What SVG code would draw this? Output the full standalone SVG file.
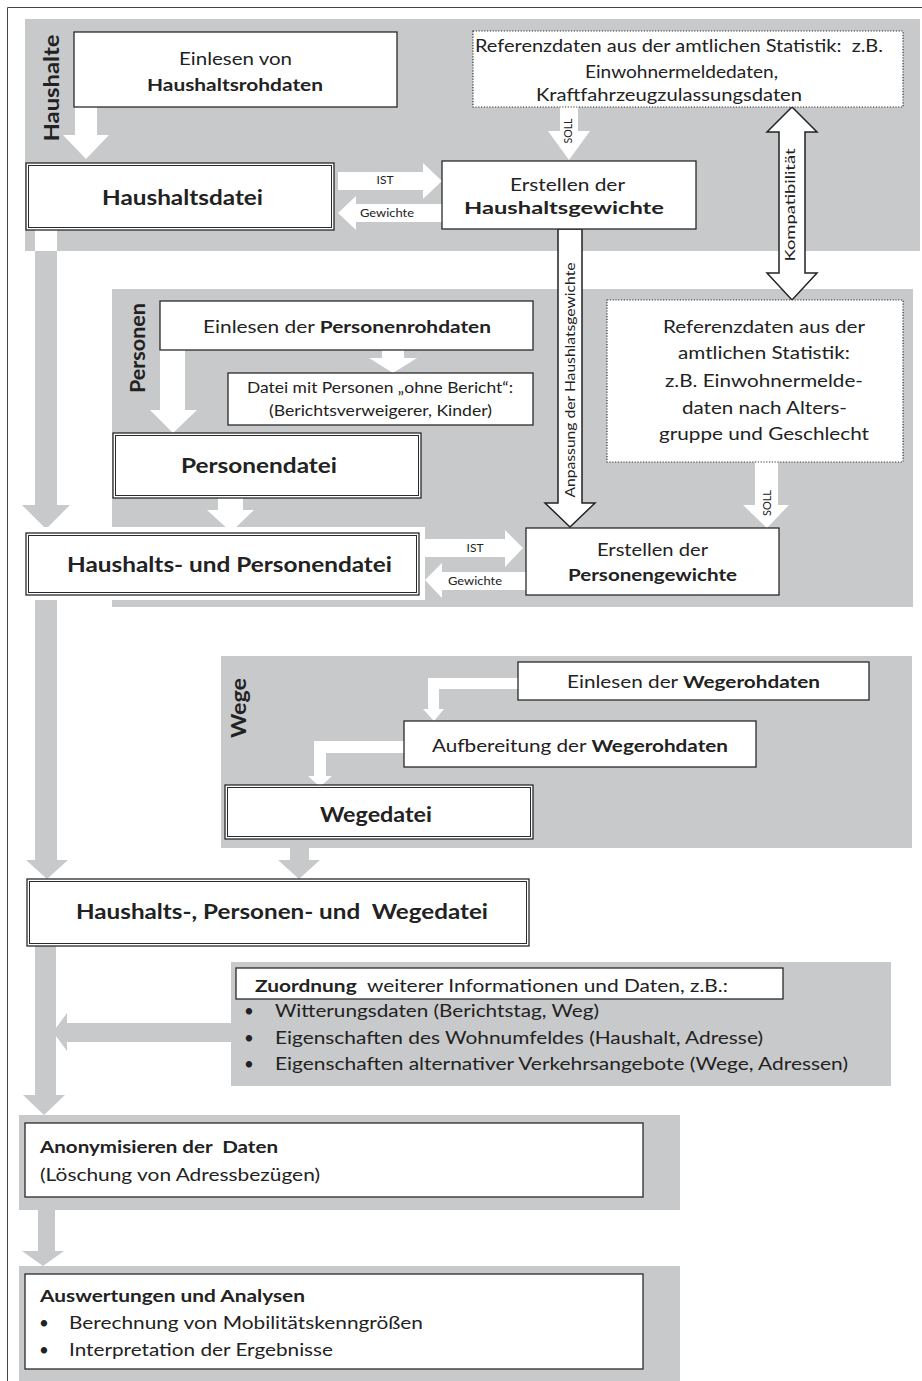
<svg xmlns="http://www.w3.org/2000/svg" width="922" height="1381" viewBox="0 0 922 1381">
<style>
text{font-family:Lato,"Open Sans","Liberation Sans",sans-serif;fill:#222}
.b{font-weight:bold}
.band{fill:#c8c9cb}
.box{fill:#fff;stroke:#2a2a2a;stroke-width:1.3}
.inner{fill:none;stroke:#2a2a2a;stroke-width:1}
.dot{fill:#fff;stroke:#333;stroke-width:1.2;stroke-dasharray:1.2 1.6}
.wa{fill:#fff}
.ga{fill:#c8c9cb}
.oa{fill:#fff;stroke:#222;stroke-width:1.5;stroke-linejoin:miter}
.t17{font-size:17px}
.t15{font-size:15px}
.t12{font-size:12px}
.t21{font-size:21px}
</style>
<path d="M7.5,1381 V7.5 H922" fill="none" stroke="#444" stroke-width="1"/>
<g id="bands">
<rect class="band" x="25" y="19" width="895" height="232"/>
<rect class="band" x="112" y="289" width="801" height="318"/>
<rect class="band" x="221" y="656" width="691" height="192"/>
<rect class="band" x="231" y="962" width="660" height="124"/>
<rect class="band" x="19" y="1115" width="661" height="95"/>
<rect class="band" x="19" y="1266" width="661" height="115"/>
<text class="b" transform="translate(59,88) rotate(-90)" text-anchor="middle" font-size="21" textLength="107" lengthAdjust="spacingAndGlyphs">Haushalte</text>
<text class="b" transform="translate(145,348) rotate(-90)" text-anchor="middle" font-size="21" textLength="90" lengthAdjust="spacingAndGlyphs">Personen</text>
<text class="b" transform="translate(246,708) rotate(-90)" text-anchor="middle" font-size="21" textLength="60" lengthAdjust="spacingAndGlyphs">Wege</text>
</g>
<g id="connectors">
<rect class="wa" x="35" y="230" width="22" height="21"/>
<polygon class="ga" points="35,251 57,251 57,505 70,505 46,529 22,505 35,505"/>
<polygon class="ga" points="35,600 57,600 57,860 68,860 47,879 26,860 35,860"/>
<polygon class="ga" points="35,946 56,946 56,1095 65,1095 44,1115 23,1095 35,1095"/>
<polygon class="ga" points="231,1023 67,1023 67,1013 53,1032 67,1051 67,1042 231,1042"/>
<polygon class="ga" points="38,1210 55,1210 55,1251 64,1251 43,1266 22,1251 38,1251"/>
<polygon class="ga" points="290,848 309,848 309,860 320,860 299,879 278,860 290,860"/>
<polygon class="wa" points="75,107 97,107 97,135 109,135 86,159 63,135 75,135"/>
<polygon class="wa" points="338,172 423,172 423,163 442,181 423,199 423,190 338,190"/>
<polygon class="wa" points="442,204 356,204 356,196 338,213 356,230 356,222 442,222"/>
<polygon class="wa" points="560,107 578,107 578,131 590,131 569,160 548,131 560,131"/>
<polygon class="oa" points="792,107 817,132 805,132 805,273 817,273 792,300 767,273 779,273 779,132 767,132"/>
<polygon class="oa" points="558,229 582,229 582,503 595,503 570,527 545,503 558,503"/>
<polygon class="wa" points="382,350 404,350 404,358 417,358 393,373 369,358 382,358"/>
<polygon class="wa" points="160,350 185,350 185,410 197,410 173,433 150,410 160,410"/>
<polygon class="wa" points="218,498 243,498 243,510 254,510 231,532 207,510 218,510"/>
<polygon class="wa" points="425,539 505,539 505,530 523,548 505,567 505,557 425,557"/>
<polygon class="wa" points="526,572 442,572 442,563 425,580 442,598 442,590 526,590"/>
<polygon class="wa" points="755,462 778,462 778,505 789,505 767,528 743,505 755,505"/>
<polygon class="wa" points="518,678 428,678 428,709 423,709 434,721 444,709 439,709 439,689 518,689"/>
<polygon class="wa" points="404,741 314,741 314,776 308,776 320,787 332,776 326,776 326,753 404,753"/>
<text class="t12" x="385" y="184" text-anchor="middle">IST</text>
<text class="t12" x="387" y="217" text-anchor="middle" textLength="54" lengthAdjust="spacingAndGlyphs">Gewichte</text>
<text class="t12" x="475" y="552" text-anchor="middle">IST</text>
<text class="t12" x="475" y="585" text-anchor="middle" textLength="54" lengthAdjust="spacingAndGlyphs">Gewichte</text>
<text transform="translate(572,131) rotate(-90)" text-anchor="middle" font-size="11.5" textLength="25" lengthAdjust="spacingAndGlyphs">SOLL</text>
<text transform="translate(771,503) rotate(-90)" text-anchor="middle" font-size="11.5" textLength="26" lengthAdjust="spacingAndGlyphs">SOLL</text>
<text transform="translate(795,205) rotate(-90)" text-anchor="middle" font-size="13" textLength="113" lengthAdjust="spacingAndGlyphs">Kompatibilität</text>
<text transform="translate(575,380) rotate(-90)" text-anchor="middle" font-size="13" textLength="235" lengthAdjust="spacingAndGlyphs">Anpassung der Haushlatsgewichte</text>
</g>
<g id="einlesen-haushalt">
<rect class="box" x="74" y="32" width="323" height="75"/>
<text class="t17" x="179" y="65" textLength="113" lengthAdjust="spacingAndGlyphs">Einlesen von</text>
<text class="t17 b" x="147" y="91" textLength="176" lengthAdjust="spacingAndGlyphs">Haushaltsrohdaten</text>
</g>
<g id="haushaltsdatei">
<rect class="box" x="26" y="163" width="308" height="67"/>
<rect class="inner" x="28.5" y="165.5" width="303" height="62"/>
<text class="t21 b" x="102" y="205" textLength="161" lengthAdjust="spacingAndGlyphs">Haushaltsdatei</text>
</g>
<g id="referenz-haushalt">
<rect class="dot" x="473" y="31" width="430" height="76"/>
<text class="t17" x="475" y="52" textLength="408" lengthAdjust="spacingAndGlyphs" xml:space="preserve">Referenzdaten aus der amtlichen Statistik:  z.B.</text>
<text class="t17" x="585" y="78" textLength="193" lengthAdjust="spacingAndGlyphs">Einwohnermeldedaten,</text>
<text class="t17" x="536" y="101" textLength="266" lengthAdjust="spacingAndGlyphs">Kraftfahrzeugzulassungsdaten</text>
</g>
<g id="haushaltsgewichte">
<rect class="box" x="442" y="161" width="254" height="68"/>
<text class="t17" x="510" y="191" textLength="115" lengthAdjust="spacingAndGlyphs">Erstellen der</text>
<text class="t17 b" x="464" y="214" textLength="200" lengthAdjust="spacingAndGlyphs">Haushaltsgewichte</text>
</g>
<g id="einlesen-personen">
<rect class="box" x="160" y="301" width="373" height="49"/>
<text class="t17" x="203" y="333" textLength="288" lengthAdjust="spacingAndGlyphs">Einlesen der <tspan class="b">Personenrohdaten</tspan></text>
</g>
<g id="ohne-bericht">
<rect class="box" x="228" y="373" width="305" height="52"/>
<text class="t15" x="247" y="393" textLength="266" lengthAdjust="spacingAndGlyphs">Datei mit Personen „ohne Bericht“:</text>
<text class="t15" x="269" y="416" textLength="223" lengthAdjust="spacingAndGlyphs">(Berichtsverweigerer, Kinder)</text>
</g>
<g id="personendatei">
<rect class="box" x="113" y="433" width="308" height="65"/>
<rect class="inner" x="115.5" y="435.5" width="303" height="60"/>
<text class="t21 b" x="181" y="473" textLength="156" lengthAdjust="spacingAndGlyphs">Personendatei</text>
</g>
<g id="haushalts-personendatei">
<rect fill="#fff" x="21" y="527" width="404" height="73"/>
<rect class="box" x="26" y="533" width="393" height="62"/>
<rect class="inner" x="28.5" y="535.5" width="388" height="57"/>
<text class="t21 b" x="67" y="572" textLength="325" lengthAdjust="spacingAndGlyphs">Haushalts- und Personendatei</text>
</g>
<g id="referenz-personen">
<rect class="dot" x="607" y="300" width="296" height="162"/>
<text class="t17" x="663" y="333" textLength="202" lengthAdjust="spacingAndGlyphs">Referenzdaten aus der</text>
<text class="t17" x="678" y="359" textLength="172" lengthAdjust="spacingAndGlyphs">amtlichen Statistik:</text>
<text class="t17" x="665" y="387" textLength="198" lengthAdjust="spacingAndGlyphs">z.B. Einwohnermelde-</text>
<text class="t17" x="682" y="414" textLength="165" lengthAdjust="spacingAndGlyphs">daten nach Alters-</text>
<text class="t17" x="659" y="440" textLength="210" lengthAdjust="spacingAndGlyphs">gruppe und Geschlecht</text>
</g>
<g id="personengewichte">
<rect class="box" x="526" y="528" width="253" height="67"/>
<text class="t17" x="597" y="556" textLength="111" lengthAdjust="spacingAndGlyphs">Erstellen der</text>
<text class="t17 b" x="568" y="581" textLength="169" lengthAdjust="spacingAndGlyphs">Personengewichte</text>
</g>
<g id="einlesen-wege">
<rect class="box" x="518" y="662" width="351" height="38"/>
<text class="t17" x="567" y="688" textLength="253" lengthAdjust="spacingAndGlyphs">Einlesen der <tspan class="b">Wegerohdaten</tspan></text>
</g>
<g id="aufbereitung-wege">
<rect class="box" x="404" y="721" width="352" height="46"/>
<text class="t17" x="432" y="752" textLength="296" lengthAdjust="spacingAndGlyphs">Aufbereitung der <tspan class="b">Wegerohdaten</tspan></text>
</g>
<g id="wegedatei">
<rect class="box" x="225" y="785" width="308" height="54"/>
<rect class="inner" x="227.5" y="787.5" width="303" height="49"/>
<text class="t21 b" x="320" y="822" textLength="112" lengthAdjust="spacingAndGlyphs">Wegedatei</text>
</g>
<g id="hpw-datei">
<rect class="box" x="27" y="879" width="502" height="67"/>
<rect class="inner" x="29.5" y="881.5" width="497" height="62"/>
<text class="t21 b" x="76" y="919" textLength="412" lengthAdjust="spacingAndGlyphs" xml:space="preserve">Haushalts-, Personen- und  Wegedatei</text>
</g>
<g id="zuordnung">
<rect class="box" x="236" y="968" width="547" height="31"/>
<text class="t17" x="255" y="992" textLength="473" lengthAdjust="spacingAndGlyphs" xml:space="preserve"><tspan class="b">Zuordnung</tspan>  weiterer Informationen und Daten, z.B.:</text>
<text class="t17" x="244" y="1017">•</text>
<text class="t17" x="275" y="1017" textLength="324" lengthAdjust="spacingAndGlyphs">Witterungsdaten (Berichtstag, Weg)</text>
<text class="t17" x="244" y="1044">•</text>
<text class="t17" x="275" y="1044" textLength="488" lengthAdjust="spacingAndGlyphs">Eigenschaften des Wohnumfeldes (Haushalt, Adresse)</text>
<text class="t17" x="244" y="1070">•</text>
<text class="t17" x="275" y="1070" textLength="573" lengthAdjust="spacingAndGlyphs">Eigenschaften alternativer Verkehrsangebote (Wege, Adressen)</text>
</g>
<g id="anonymisieren">
<rect class="box" x="25" y="1123" width="618" height="74"/>
<text class="t17 b" x="40" y="1153" textLength="238" lengthAdjust="spacingAndGlyphs" xml:space="preserve">Anonymisieren der  Daten</text>
<text class="t17" x="40" y="1181" textLength="280" lengthAdjust="spacingAndGlyphs">(Löschung von Adressbezügen)</text>
</g>
<g id="auswertungen">
<rect class="box" x="25" y="1274" width="618" height="95"/>
<text class="t17 b" x="40" y="1302" textLength="265" lengthAdjust="spacingAndGlyphs">Auswertungen und Analysen</text>
<text class="t17" x="39" y="1329">•</text>
<text class="t17" x="69" y="1329" textLength="354" lengthAdjust="spacingAndGlyphs">Berechnung von Mobilitätskenngrößen</text>
<text class="t17" x="39" y="1356">•</text>
<text class="t17" x="69" y="1356" textLength="264" lengthAdjust="spacingAndGlyphs">Interpretation der Ergebnisse</text>
</g>
</svg>
